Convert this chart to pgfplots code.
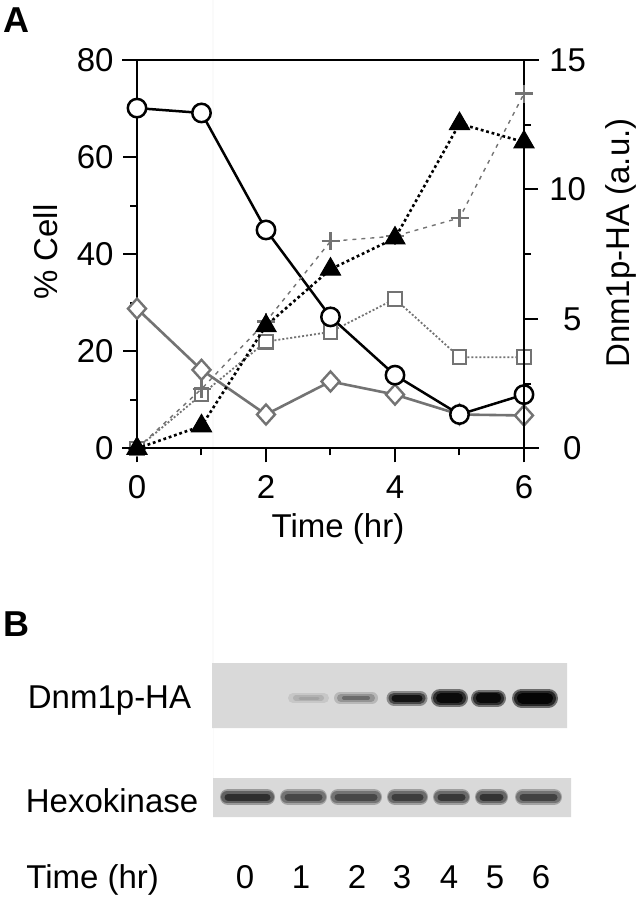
\documentclass[border=0pt]{standalone}
\usepackage{pgfplots}
\pgfplotsset{compat=1.18}
\usepackage{fontspec}
\setmainfont{Liberation Sans}
\definecolor{dgray}{gray}{0.45}
\definecolor{blotbg}{gray}{0.85}
\newcommand{\lab}{\fontsize{16.5}{19.5}\selectfont}
\begin{document}
\begin{tikzpicture}[x=1pt,y=1pt]
% ---------- canvas in pixel units (panel B and texts) ----------
\begin{axis}[at={(0pt,0pt)}, anchor=south west, width=318.5pt, height=449.5pt,
  scale only axis, xmin=0, xmax=637, ymin=0, ymax=899, y dir=reverse,
  hide axis, clip=false]
% blot backgrounds
\addplot[fill=blotbg, draw=none] coordinates {(212,663) (567,663) (567,728) (212,728)} \closedcycle;
\addplot[fill=blotbg, draw=none] coordinates {(213,778) (571,778) (571,817) (213,817)} \closedcycle;
% Dnm1p-HA bands (halo, body, core)
\addplot[draw=black!22, line width=5pt, line cap=round] coordinates {(293,698) (324,698)};
\addplot[draw=black!30, line width=3pt, line cap=round] coordinates {(296,698) (321,698)};
\addplot[draw=black!36, line width=1.5pt, line cap=round] coordinates {(300,698) (318,698)};
\addplot[draw=black!28, line width=6pt, line cap=round] coordinates {(340,698) (372,698)};
\addplot[draw=black!42, line width=4pt, line cap=round] coordinates {(341,698) (371,698)};
\addplot[draw=black!58, line width=2pt, line cap=round] coordinates {(344,698) (368,698)};
\addplot[draw=black!45, line width=7.5pt, line cap=round] coordinates {(394,698) (420,698)};
\addplot[draw=black!72, line width=5.5pt, line cap=round] coordinates {(394,698) (420,698)};
\addplot[draw=black!92, line width=3.5pt, line cap=round] coordinates {(395,698) (419,698)};
\addplot[draw=black!55, line width=9pt, line cap=round] coordinates {(440,698) (459,698)};
\addplot[draw=black!82, line width=7pt, line cap=round] coordinates {(440,698) (459,698)};
\addplot[draw=black!96, line width=5pt, line cap=round] coordinates {(441,698) (458,698)};
\addplot[draw=black!55, line width=8.5pt, line cap=round] coordinates {(479.5,698) (497.5,698)};
\addplot[draw=black!82, line width=6.5pt, line cap=round] coordinates {(479.5,698) (497.5,698)};
\addplot[draw=black!96, line width=4.8pt, line cap=round] coordinates {(480.5,698) (496.5,698)};
\addplot[draw=black!58, line width=9.5pt, line cap=round] coordinates {(521.5,698) (548.5,698)};
\addplot[draw=black!85, line width=7.5pt, line cap=round] coordinates {(521.5,698) (548.5,698)};
\addplot[draw=black!98, line width=5.5pt, line cap=round] coordinates {(522.5,698) (547.5,698)};
% Hexokinase bands
\addplot[draw=black!40, line width=8pt, line cap=round] coordinates {(228,797) (267,797)};
\addplot[draw=black!62, line width=6pt, line cap=round] coordinates {(227,797) (268,797)};
\addplot[draw=black!82, line width=3.5pt, line cap=round] coordinates {(228,797) (267,797)};
\addplot[draw=black!36, line width=8pt, line cap=round] coordinates {(288,797) (319,797)};
\addplot[draw=black!55, line width=6pt, line cap=round] coordinates {(287,797) (320,797)};
\addplot[draw=black!72, line width=3.5pt, line cap=round] coordinates {(288,797) (319,797)};
\addplot[draw=black!36, line width=8pt, line cap=round] coordinates {(338,797) (374,797)};
\addplot[draw=black!55, line width=6pt, line cap=round] coordinates {(337,797) (375,797)};
\addplot[draw=black!72, line width=3.5pt, line cap=round] coordinates {(338,797) (374,797)};
\addplot[draw=black!38, line width=8pt, line cap=round] coordinates {(395,797) (420,797)};
\addplot[draw=black!58, line width=6pt, line cap=round] coordinates {(394,797) (421,797)};
\addplot[draw=black!76, line width=3.5pt, line cap=round] coordinates {(395,797) (420,797)};
\addplot[draw=black!38, line width=8pt, line cap=round] coordinates {(441,797) (462,797)};
\addplot[draw=black!58, line width=6pt, line cap=round] coordinates {(440,797) (463,797)};
\addplot[draw=black!78, line width=3.5pt, line cap=round] coordinates {(441,797) (462,797)};
\addplot[draw=black!40, line width=8pt, line cap=round] coordinates {(483,797) (500,797)};
\addplot[draw=black!60, line width=6pt, line cap=round] coordinates {(482,797) (501,797)};
\addplot[draw=black!80, line width=3.5pt, line cap=round] coordinates {(483,797) (500,797)};
\addplot[draw=black!36, line width=8pt, line cap=round] coordinates {(523,797) (554,797)};
\addplot[draw=black!55, line width=6pt, line cap=round] coordinates {(522,797) (555,797)};
\addplot[draw=black!74, line width=3.5pt, line cap=round] coordinates {(523,797) (554,797)};
% panel letters and texts
\node[anchor=base west, inner sep=0pt, font=\fontsize{18}{21}\selectfont\bfseries] at (axis cs:3,33) {A};
\node[anchor=base west, inner sep=0pt, font=\fontsize{18}{21}\selectfont\bfseries] at (axis cs:3,636) {B};
\node[anchor=base, inner sep=0pt, font=\lab] at (axis cs:338,537) {Time (hr)};
\node[anchor=base, inner sep=0pt, rotate=90, font=\lab] at (axis cs:57,252) {\% Cell};
\node[anchor=base, inner sep=0pt, rotate=90, font=\lab] at (axis cs:629,243) {Dnm1p-HA (a.u.)};
\node[anchor=base west, inner sep=0pt, font=\lab] at (axis cs:27.5,708) {Dnm1p-HA};
\node[anchor=base west, inner sep=0pt, font=\lab] at (axis cs:25.5,812) {Hexokinase};
\node[anchor=base west, inner sep=0pt, font=\lab] at (axis cs:26,888) {Time (hr)};
\node[anchor=base, inner sep=0pt, font=\lab] at (axis cs:245,888) {0};
\node[anchor=base, inner sep=0pt, font=\lab] at (axis cs:301,888) {1};
\node[anchor=base, inner sep=0pt, font=\lab] at (axis cs:357,888) {2};
\node[anchor=base, inner sep=0pt, font=\lab] at (axis cs:402,888) {3};
\node[anchor=base, inner sep=0pt, font=\lab] at (axis cs:449,888) {4};
\node[anchor=base, inner sep=0pt, font=\lab] at (axis cs:495,888) {5};
\node[anchor=base, inner sep=0pt, font=\lab] at (axis cs:541,888) {6};
\end{axis}
% ---------- panel A, left axis ----------
\begin{axis}[at={(68.5pt,225.25pt)}, anchor=south west, width=193.5pt, height=194.25pt,
  scale only axis, xmin=0, xmax=6, ymin=0, ymax=80, clip=false,
  axis line style={line width=1pt}, tick style={line width=1pt, black},
  major tick length=7pt, minor tick length=3.5pt, tick align=outside,
  xtick={0,2,4,6}, minor xtick={1,3,5}, ytick={0,20,40,60,80}, minor ytick={10,30,50,70},
  xtick pos=left, ytick pos=left,
  tick label style={font=\lab}, /pgf/number format/assume math mode=true,
  yticklabel style={anchor=east, inner sep=0pt, xshift=-4.5pt},
  xticklabel style={anchor=north, inner sep=0pt, yshift=-6.5pt}]
\addplot[dgray, line width=1.3pt, mark=diamond*, mark size=5pt,
  mark options={fill=white, line width=1.2pt, xscale=1.2}]
  coordinates {(0,28.8) (1,16.2) (2,7.0) (3,13.8) (4,11.1) (5,7.0) (6,6.8)};
\addplot[dgray, line width=0.9pt, dash pattern=on 1pt off 1pt, mark=square*, mark size=3.4pt,
  mark options={fill=white, line width=1.1pt, solid}]
  coordinates {(0,0) (1,11.1) (2,22.0) (3,24.0) (4,30.8) (5,18.8) (6,18.8)};
\addplot[black, line width=1.25pt, mark=*, mark size=4.6pt,
  mark options={fill=white, line width=1.25pt}]
  coordinates {(0,70.1) (1,69.1) (2,45.0) (3,27.1) (4,15.1) (5,7.0) (6,11.1)};
\end{axis}
% ---------- panel A, right axis ----------
\begin{axis}[at={(68.5pt,225.25pt)}, anchor=south west, width=193.5pt, height=194.25pt,
  scale only axis, xmin=0, xmax=6, ymin=0, ymax=15, clip=false,
  axis x line=none, axis y line*=right,
  axis line style={line width=1pt}, tick style={line width=1pt, black},
  major tick length=7pt, minor tick length=3.5pt, tick align=outside,
  ytick={0,5,10,15}, minor ytick={2.5,7.5,12.5}, ytick pos=right,
  tick label style={font=\lab}, /pgf/number format/assume math mode=true,
  yticklabel style={anchor=west, inner sep=0pt, text width=16pt, align=right, xshift=5.5pt}]
\addplot[dgray, line width=0.7pt, dash pattern=on 2pt off 2.5pt, mark=+, mark size=4.5pt,
  mark options={line width=1.2pt, solid}]
  coordinates {(0,0) (1,2.3) (2,4.9) (3,8.0) (4,8.2) (5,8.9) (6,13.7)};
\addplot[black, line width=1.3pt, dash pattern=on 1.4pt off 1.4pt, mark=triangle*, mark size=5.8pt,
  mark options={solid, line width=0.5pt}]
  coordinates {(0,0) (1,0.87) (2,4.74) (3,6.92) (4,8.12) (5,12.54) (6,11.83)};
\end{axis}
% extended horizontal frame lines
\draw[line width=1pt] (61pt,225.25pt) -- (269.5pt,225.25pt);
\draw[line width=1pt] (61pt,419.5pt) -- (269.5pt,419.5pt);
\path[use as bounding box] (0pt,0pt) rectangle (318.5pt,449.5pt);
\end{tikzpicture}
\end{document}
